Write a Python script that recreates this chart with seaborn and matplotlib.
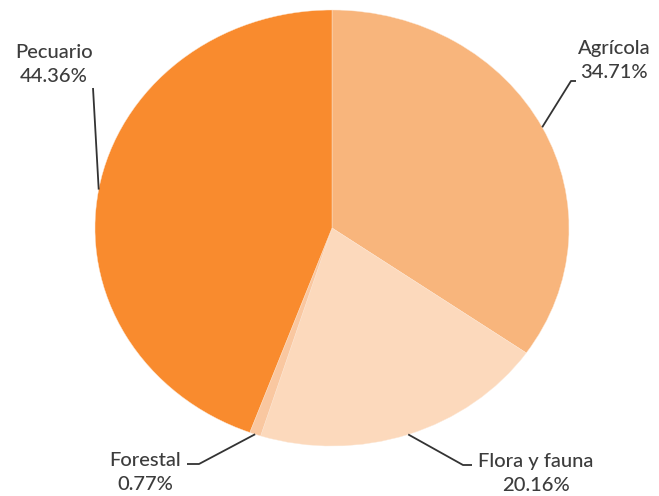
import numpy as np
import matplotlib
matplotlib.use("Agg")
import matplotlib.pyplot as plt
import seaborn as sns

categories = ["Agrícola", "Flora y fauna", "Forestal", "Pecuario"]
values = [34.71, 20.16, 0.77, 44.36]
colors = ["#F8B57C", "#FCD9BC", "#F9C7A0", "#F98B2E"]

sns.set_theme(style="white")
plt.rcParams['font.family'] = ['Lato', 'DejaVu Sans']

W, H = 659, 496
fig = plt.figure(figsize=(W / 100, H / 100), dpi=100)
ax = fig.add_axes([0, 0, 1, 1])

cx, cy = 332, 228      # pixel centre (from top)
rx, ry = 237, 218      # pixel radii

def px(x, y):
    return (x - cx) / rx, (cy - y) / ry

wedges, _ = ax.pie(values, colors=colors, startangle=90, counterclock=False,
                   radius=1.0, wedgeprops=dict(edgecolor="#FDE6D2", linewidth=0.3))
ax.set_aspect("auto")
ax.set_xlim(-cx / rx, (W - cx) / rx)
ax.set_ylim(-(H - cy) / ry, cy / ry)
ax.axis("off")

# label text positions (px) and elbow points (px) for leader lines
label_pos = {"Agrícola": (614, 61), "Flora y fauna": (536, 474),
             "Forestal": (145, 472), "Pecuario": (54, 65)}
elbow = {"Agrícola": [(576, 81), (571, 81)],
         "Flora y fauna": [(472, 465), (463, 465)],
         "Forestal": [(187, 464), (199, 464)],
         "Pecuario": [(93, 88)]}

txtcol = "#3C3C3C"
for w, cat, v in zip(wedges, categories, values):
    mid = np.deg2rad((w.theta1 + w.theta2) / 2)
    ex, ey = np.cos(mid), np.sin(mid)
    pts = [px(*p) for p in elbow[cat]] + [(ex, ey)]
    xs, ys = zip(*pts)
    ax.plot(xs, ys, color="#333333", lw=1.3, solid_capstyle="butt")
    tx, ty = px(*label_pos[cat])
    ax.text(tx, ty, f"{cat}\n{v:.2f}%", ha="center", va="center",
            fontsize=14.5, color=txtcol, linespacing=1.5, fontweight="medium")

fig.savefig("out.png", dpi=100, facecolor="white")
